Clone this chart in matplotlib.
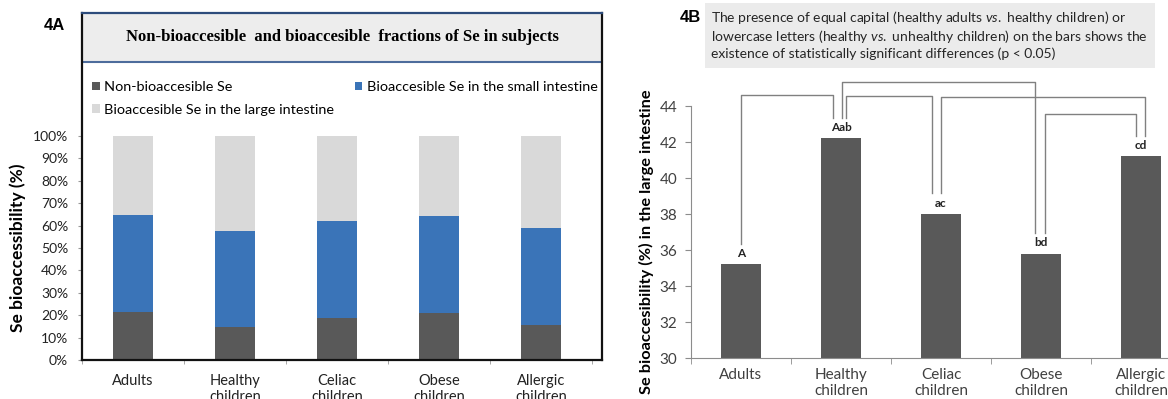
import numpy as np
import matplotlib.pyplot as plt
from matplotlib.patches import Rectangle

plt.rcParams['font.family'] = ['Lato', 'DejaVu Sans']
plt.rcParams['mathtext.fontset'] = 'custom'
plt.rcParams['mathtext.rm'] = 'Lato'
plt.rcParams['mathtext.it'] = 'Lato:italic'

groups = ['Adults', 'Healthy\nchildren', 'Celiac\nchildren', 'Obese\nchildren', 'Allergic\nchildren']

# 4A - Se fractions per subject group (%)
non_bioacc = [21.6, 14.7, 18.7, 21.0, 15.6]
small_int = [43.2, 43.1, 43.3, 43.2, 43.2]
large_int = [35.2, 42.2, 38.0, 35.8, 41.2]

# 4B - Se bioaccesibility in the large intestine (%)
large_bioacc = [35.2, 42.2, 38.0, 35.8, 41.2]
sig_letters = ['A', 'Aab', 'ac', 'bd', 'cd']

# significance brackets: (bar i, leg shift i, bar j, leg shift j, bracket top)
brackets = [(0, 0.0, 1, -0.08, 44.6),
            (1, 0.01, 3, -0.06, 45.35),
            (1, 0.05, 2, -0.09, 44.56),
            (2, 0.0, 4, 0.04, 44.52),
            (3, 0.04, 4, -0.05, 43.56)]

W, H = 1168, 399
fig = plt.figure(figsize=(W / 100, H / 100), dpi=100)


def fx(px):
    return px / W


def fy(py):
    return 1 - py / H


x = np.arange(len(groups))
bw = 0.4

# ---------------- 4A ----------------
axA = fig.add_axes([fx(82), fy(360), (602 - 82) / W, (360 - 13) / H])
h1 = axA.bar(x, non_bioacc, bw, color='#595959', label='Non-bioaccesible Se')
h2 = axA.bar(x, small_int, bw, bottom=non_bioacc, color='#3A74B8',
             label='Bioaccesible Se in the small intestine')
h3 = axA.bar(x, large_int, bw, bottom=np.add(non_bioacc, small_int), color='#D9D9D9',
             label='Bioaccesible Se in the large intestine')
axA.set_xlim(-0.5, 4.5 + 10 / 102)
axA.set_ylim(0, 100 * 347 / 224)
axA.set_yticks(range(0, 101, 10))
axA.set_yticklabels([f'{v}%' for v in range(0, 101, 10)])
axA.set_xticks(x)
axA.set_xticklabels(groups)
axA.set_xticks(np.arange(-0.5, 5, 1), minor=True)
axA.tick_params(axis='y', length=3, color='#999999', pad=7, labelsize=10, labelcolor='#222222')
axA.tick_params(axis='x', which='major', length=0, pad=10, labelsize=10.5, labelcolor='#222222')
axA.tick_params(axis='x', which='minor', length=3, color='#999999')
for s in axA.spines.values():
    s.set_linewidth(1.6)
    s.set_color('#111111')
axA.spines['top'].set_color('#2D4C7C')

# title strip
ytop = (360 - 62) / 347
axA.add_patch(Rectangle((0, ytop), 1, 1 - ytop, transform=axA.transAxes,
                        facecolor='#EDEDED', edgecolor='none', zorder=0))
axA.plot([0, 1], [ytop, ytop], transform=axA.transAxes, color='#4D6C9C', lw=1.5)
axA.text(0.5, (360 - 37) / 347, 'Non-bioaccesible  and bioaccesible  fractions of Se in subjects',
         transform=axA.transAxes, ha='center', va='center', family='Liberation Serif',
         weight='bold', size=12)

axA.legend(handles=[h1, h3, h2], ncol=2, loc='upper left',
           bbox_to_anchor=((92 - 82) / 520, (360 - 81) / 347), frameon=False,
           fontsize=10.4, handlelength=0.55, handleheight=0.55, handletextpad=0.3,
           columnspacing=1.4, labelspacing=0.75, borderpad=0, borderaxespad=0)

fig.text(fx(18), fy(248), 'Se bioaccessibility (%)', rotation=90, ha='center', va='center',
         weight='bold', size=12.5)
fig.text(fx(54), fy(25), '4A', weight='bold', size=12, family='Liberation Sans',
         ha='center', va='center')

# ---------------- 4B ----------------
axB = fig.add_axes([fx(691), fy(358), 500 / W, (358 - 106) / H])
axB.bar(x, large_bioacc, bw, color='#595959')
axB.set_xlim(-0.5, 4.5)
axB.set_ylim(30, 44)
axB.set_yticks(range(30, 45, 2))
axB.set_xticks(x)
axB.set_xticklabels(groups)
axB.set_xticks(np.arange(-0.5, 5, 1), minor=True)
for side in ('top', 'right'):
    axB.spines[side].set_visible(False)
for side in ('left', 'bottom'):
    axB.spines[side].set_color('#8C8C8C')
axB.tick_params(axis='y', length=4, color='#8C8C8C', pad=6, labelsize=11, labelcolor='#404040')
axB.tick_params(axis='x', which='major', length=0, pad=7, labelsize=11, labelcolor='#404040')
axB.tick_params(axis='x', which='minor', length=4, color='#8C8C8C')

for xi, v, lab in zip(x, large_bioacc, sig_letters):
    axB.text(xi, v + 0.3, lab, ha='center', va='bottom', weight='bold', size=8.5, color='#222222')

for i, di, j, dj, top in brackets:
    xs = [x[i] + di, x[i] + di, x[j] + dj, x[j] + dj]
    ys = [large_bioacc[i] + 1.15, top, top, large_bioacc[j] + 1.15]
    axB.plot(xs, ys, color='#808080', lw=1.0, clip_on=False)

fig.text(fx(646), fy(242), 'Se bioaccesibility (%) in the large intestine', rotation=90,
         ha='center', va='center', weight='bold', size=11.8)
fig.text(fx(690), fy(17), '4B', weight='bold', size=12, family='Liberation Sans',
         ha='center', va='center')

fig.add_artist(Rectangle((fx(705), fy(68)), (1155 - 705) / W, 65 / H, transform=fig.transFigure,
                         facecolor='#EBEBEB', edgecolor='none', zorder=0))
note = ('The presence of equal capital (healthy adults $\\it{vs.}$ healthy children) or\n'
        'lowercase letters (healthy $\\it{vs.}$ unhealthy children) on the bars shows the\n'
        'existence of statistically significant differences (p < 0.05)')
fig.text(fx(711), fy(9), note, ha='left', va='top', size=10, color='#262626', linespacing=1.18)

fig.savefig('out.png', dpi=100)
